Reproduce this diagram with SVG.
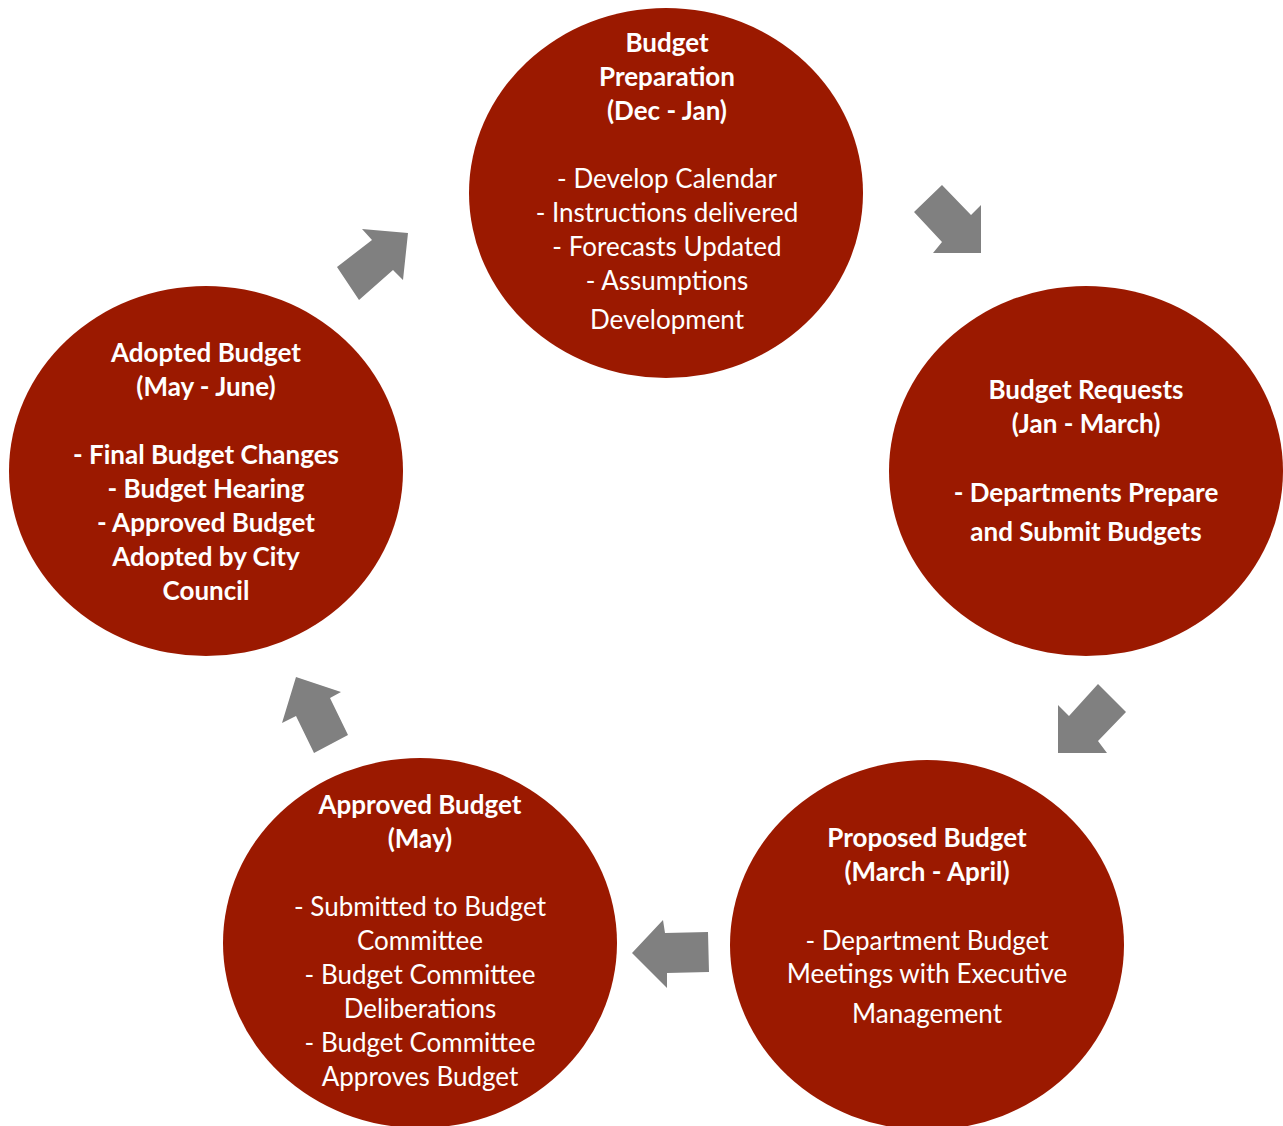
<svg xmlns="http://www.w3.org/2000/svg" width="1283" height="1126" viewBox="0 0 1283 1126">
<style>
.c{fill:#9B1900}
.a{fill:#808080}
text{font-family:Lato,"Liberation Sans",sans-serif;font-size:26px;fill:#fff;text-anchor:middle}
.b{font-weight:bold}
</style>
<rect width="1283" height="1126" fill="#fff"/>
<g id="connectors">
<polygon class="a" points="942,185 914,212 942,242 933,253 981,253 981,205 971,215"/>
<polygon class="a" points="1098,684 1126,712 1098,741 1107,753 1058,753 1058,705 1069,716"/>
<polygon class="a" points="632,953 663,920 665,933 708,932 709,972 667,973 667,988"/>
<polygon class="a" points="296,677 341,692 330,698 348,735 314,753 296,716 282,723"/>
<polygon class="a" points="362,229 408,233 403,280 393,270 359,300 337,267 372,240"/>
</g>
<g id="prep">
<ellipse class="c" cx="666" cy="193" rx="197" ry="185"/>
<text class="b" x="667" y="52">Budget</text>
<text class="b" x="667" y="86">Preparation</text>
<text class="b" x="667" y="120">(Dec - Jan)</text>
<text x="667" y="188">- Develop Calendar</text>
<text x="667" y="222">- Instructions delivered</text>
<text x="667" y="256">- Forecasts Updated</text>
<text x="667" y="290">- Assumptions</text>
<text x="667" y="329">Development</text>
</g>
<g id="requests">
<ellipse class="c" cx="1086" cy="471" rx="197" ry="185"/>
<text class="b" x="1086" y="399">Budget Requests</text>
<text class="b" x="1086" y="433">(Jan - March)</text>
<text class="b" x="1086" y="502">- Departments Prepare</text>
<text class="b" x="1086" y="541">and Submit Budgets</text>
</g>
<g id="proposed">
<ellipse class="c" cx="927" cy="945" rx="197" ry="185"/>
<text class="b" x="927" y="847">Proposed Budget</text>
<text class="b" x="927" y="881">(March - April)</text>
<text x="927" y="950">- Department Budget</text>
<text x="927" y="983">Meetings with Executive</text>
<text x="927" y="1023">Management</text>
</g>
<g id="approved">
<ellipse class="c" cx="420" cy="943" rx="197" ry="185"/>
<text class="b" x="420" y="814">Approved Budget</text>
<text class="b" x="420" y="848">(May)</text>
<text x="420" y="916">- Submitted to Budget</text>
<text x="420" y="950">Committee</text>
<text x="420" y="984">- Budget Committee</text>
<text x="420" y="1018">Deliberations</text>
<text x="420" y="1052">- Budget Committee</text>
<text x="420" y="1086">Approves Budget</text>
</g>
<g id="adopted">
<ellipse class="c" cx="206" cy="471" rx="197" ry="185"/>
<text class="b" x="206" y="362">Adopted Budget</text>
<text class="b" x="206" y="396">(May - June)</text>
<text class="b" x="206" y="464">- Final Budget Changes</text>
<text class="b" x="206" y="498">- Budget Hearing</text>
<text class="b" x="206" y="532">- Approved Budget</text>
<text class="b" x="206" y="566">Adopted by City</text>
<text class="b" x="206" y="600">Council</text>
</g>
</svg>
